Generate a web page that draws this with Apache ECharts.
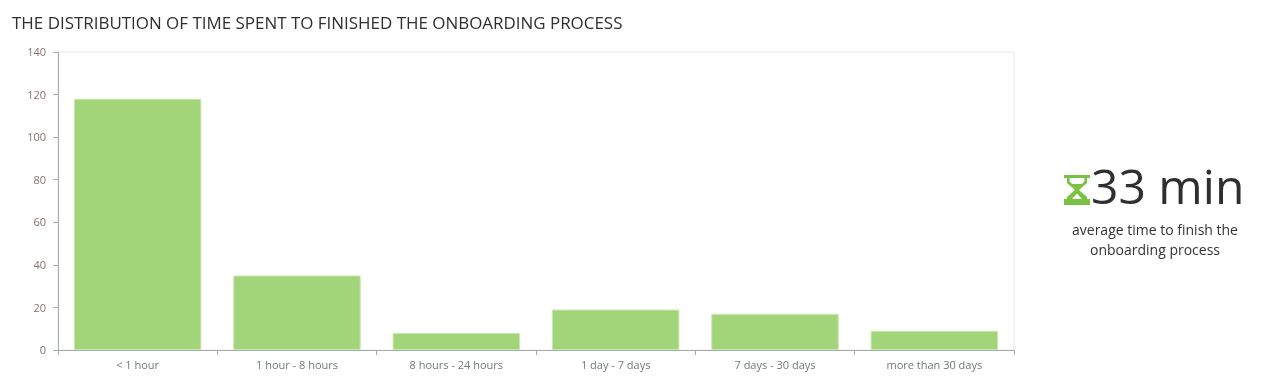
<!DOCTYPE html>
<html><head><meta charset="utf-8">
<style>html,body{margin:0;padding:0;background:#fff}#c{width:1264px;height:391px}</style>
<script src="https://cdn.jsdelivr.net/npm/echarts@6/dist/echarts.min.js"></script>
</head><body><div id="c"></div>
<script>
const categories = ['< 1 hour','1 hour - 8 hours','8 hours - 24 hours','1 day - 7 days','7 days - 30 days','more than 30 days'];
const values = [118,35,8,19,17,9];
const titleText = 'THE DISTRIBUTION OF TIME SPENT TO FINISHED THE ONBOARDING PROCESS';
const kpiValue = '33 min';
const kpiCaption = 'average time to finish the\nonboarding process';
const font = '"Open Sans", sans-serif';
const chart = echarts.init(document.getElementById('c'), null, {renderer:'canvas'});
chart.setOption({
  animation:false,
  backgroundColor:'#fff',
  title:{text:titleText,left:7,top:11,textStyle:{fontFamily:font,fontSize:16.95,fontWeight:'normal',color:'#2f2f2f'}},
  grid:{left:58,right:250,top:52,bottom:41,containLabel:false,show:true,borderColor:'#e9e9e9',borderWidth:1,backgroundColor:'transparent'},
  xAxis:{type:'category',data:categories,
    axisLine:{lineStyle:{color:'#a3adad',width:1}},
    axisTick:{show:true,length:5,lineStyle:{color:'#a3adad'},alignWithLabel:false},
    axisLabel:{fontFamily:font,fontSize:11,color:'#6f7a7c',margin:10,interval:0},
    splitLine:{show:false}},
  yAxis:{type:'value',min:0,max:140,interval:20,
    axisLine:{show:true,lineStyle:{color:'#a3adad',width:1}},
    axisTick:{show:true,length:5,lineStyle:{color:'#a3adad'}},
    axisLabel:{margin:12,formatter:'{a|{value}}',rich:{a:{fontFamily:font,fontSize:11,color:'#86706c',padding:[2,0,0,0]}}},
    splitLine:{show:false}},
  series:[{type:'bar',data:values,barCategoryGap:'20%',
    itemStyle:{color:'#a2d579',borderColor:'#c8e8ae',borderWidth:1}}],
  graphic:[
    {type:'group',x:1064,y:175,children:[
      {type:'rect',shape:{x:0,y:0,width:26,height:3},style:{fill:'#7cc242'}},
      {type:'rect',shape:{x:0,y:24,width:26,height:6},style:{fill:'#7cc242'}},
      {type:'polygon',shape:{points:[[3,3],[23,3],[23,8],[15.5,14.5],[15.5,15.5],[23,22],[23,24],[3,24],[3,22],[10.5,15.5],[10.5,14.5],[3,8]]},style:{fill:'#7cc242'}},
      {type:'polygon',shape:{points:[[5.5,3],[20.5,3],[20.5,6],[18,9],[8,9],[5.5,6]]},style:{fill:'#ffffff'}},
      {type:'polygon',shape:{points:[[13,18.5],[18,24],[8,24]]},style:{fill:'#ffffff'}}
    ]},
    {type:'text',x:1091,y:190,style:{text:kpiValue,fontFamily:font,fontSize:48,fill:'#2f2f2f',align:'left',verticalAlign:'middle'}},
    {type:'text',x:1155,y:241,style:{text:kpiCaption,fontFamily:font,fontSize:14,lineHeight:20,fill:'#333333',align:'center',verticalAlign:'middle'}}
  ]
});
</script></body></html>
